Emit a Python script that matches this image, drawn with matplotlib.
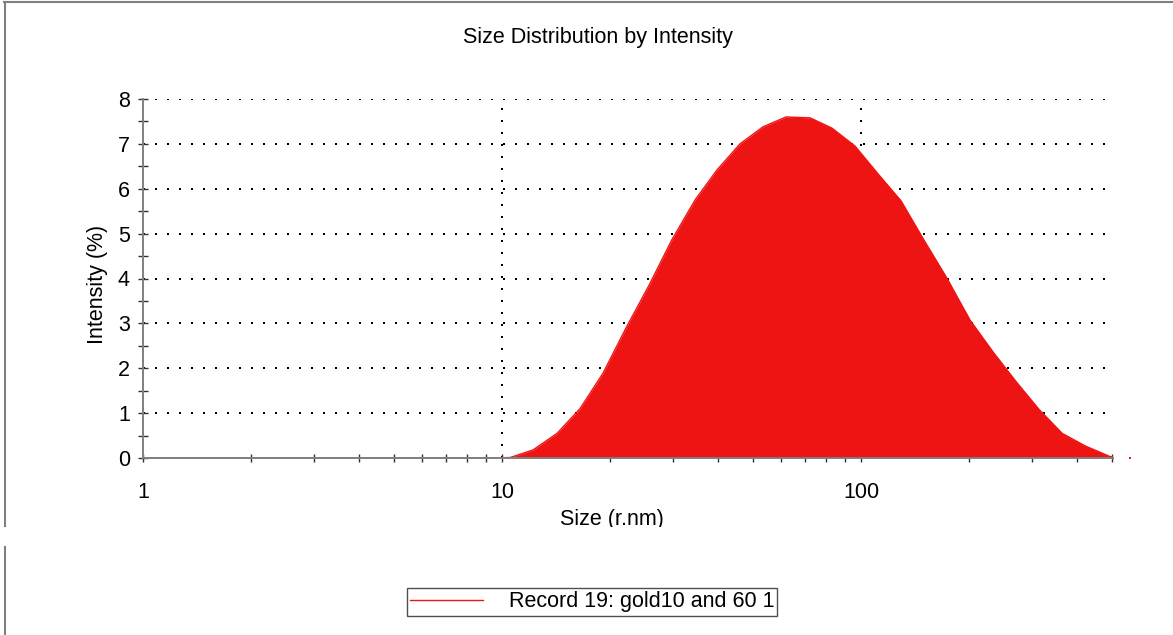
import numpy as np
import matplotlib
matplotlib.use("Agg")
import matplotlib.pyplot as plt
from matplotlib.lines import Line2D
from matplotlib.patches import Rectangle
from matplotlib.ticker import FixedLocator, NullFormatter

plt.rcParams['font.family'] = ['Liberation Sans', 'DejaVu Sans']

# size bins (r.nm) and intensity (%)
sizes = [0.86, 1.00, 1.16, 1.34, 1.55, 1.80, 2.08, 2.41, 2.80, 3.24, 3.75,
         4.35, 5.04, 5.84, 6.77, 7.84, 9.09, 10.53, 12.2, 14.23, 16.49,
         19.11, 22.15, 25.67, 29.75, 34.48, 39.7, 46.0, 53.3, 61.8, 72.1,
         83.0, 96.2, 111.5, 129.2, 149.8, 173.6, 201.2, 233.2, 270.3,
         313.2, 363.0, 420.7, 494.0, 561.0]
intensity = [0, 0, 0, 0, 0, 0, 0, 0, 0, 0, 0,
             0, 0, 0, 0, 0, 0, 0.01, 0.18, 0.55, 1.1,
             1.89, 2.9, 3.85, 4.87, 5.75, 6.42, 7.0, 7.38, 7.6, 7.58,
             7.35, 6.95, 6.33, 5.73, 4.85, 4.0, 3.07, 2.36, 1.7,
             1.08, 0.55, 0.27, 0.03, 0.0]
xticks = [1, 10, 100]
xtick_labels = ['1', '10', '100']
yticks = [0, 1, 2, 3, 4, 5, 6, 7, 8]
series_name = 'Record 19: gold10 and 60 1'

red = '#EF1414'
grey = '#808080'
fs = 15.5

W, H = 1173, 635
fig = plt.figure(figsize=(W / 100, H / 100), dpi=100)
ax = fig.add_axes([143 / W, 1 - 458 / H, (1113 - 143) / W, (458 - 99) / H])

ax.fill_between(sizes, intensity, 0, color=red, lw=0)
ax.plot(sizes, intensity, color=red, lw=1, label=series_name)
# last bin lies just past the axis end; the original shows it as a stray dot
ax.plot(sizes[-1:], intensity[-1:], 's', color=red, ms=1.6, mew=0, clip_on=False)

ax.set_xscale('log')
ax.set_xlim(1, 503)
ax.set_ylim(0, 8)

ax.set_xticks(xticks)
ax.set_xticklabels(xtick_labels)
ax.xaxis.set_minor_locator(FixedLocator([m * d for d in (1, 10, 100) for m in range(2, 10) if m * d <= 500]))
ax.xaxis.set_minor_formatter(NullFormatter())
ax.set_yticks(yticks)
ax.set_yticklabels([str(v) for v in yticks])
ax.yaxis.set_minor_locator(FixedLocator(np.arange(0.5, 8, 1.0)))

ax.tick_params(which='both', direction='inout', color='#303030', width=1, labelsize=fs)
ax.tick_params(axis='y', which='both', length=7, pad=6)
ax.tick_params(axis='x', which='both', length=6, pad=14)

for s in ['top', 'right']:
    ax.spines[s].set_visible(False)
for s in ['left', 'bottom']:
    ax.spines[s].set_color(grey)
    ax.spines[s].set_linewidth(1.4)

ax.set_axisbelow(True)
ax.grid(True, which='major', color='black', linestyle=(0, (1, 5)), linewidth=1.44)

fig.text(598 / W, 1 - 38 / H, 'Size Distribution by Intensity', ha='center', va='center', fontsize=fs)
fig.text(98 / W, 1 - 284 / H, 'Intensity (%)', ha='center', va='center', rotation=90, fontsize=fs)
xl = fig.text(612 / W, 1 - 520 / H, 'Size (r.nm)', ha='center', va='center', fontsize=fs)
clip = Rectangle((0, 1 - 527 / H), 1, 527 / H, transform=fig.transFigure, visible=False)
fig.add_artist(clip)
xl.set_clip_path(clip)

# panel borders
fig.add_artist(Line2D([4 / W, 1], [1 - 2 / H, 1 - 2 / H], color=grey, lw=1.5, transform=fig.transFigure))
fig.add_artist(Line2D([4.5 / W, 4.5 / W], [1 - 2 / H, 1 - 526 / H], color=grey, lw=1.5, transform=fig.transFigure))
fig.add_artist(Line2D([4.5 / W, 4.5 / W], [1 - 547 / H, 0], color=grey, lw=1.5, transform=fig.transFigure))

leg = fig.legend(handles=[Line2D([], [], color=red, lw=1)], labels=[series_name],
                 loc='center', bbox_to_anchor=(592 / W, 1 - 602 / H), fontsize=fs,
                 fancybox=False, edgecolor='#505050', framealpha=1,
                 handlelength=3.4, handletextpad=1.2, borderpad=0.15, borderaxespad=0)
leg.get_frame().set_linewidth(1.0)

fig.savefig('out.png', dpi=100)
